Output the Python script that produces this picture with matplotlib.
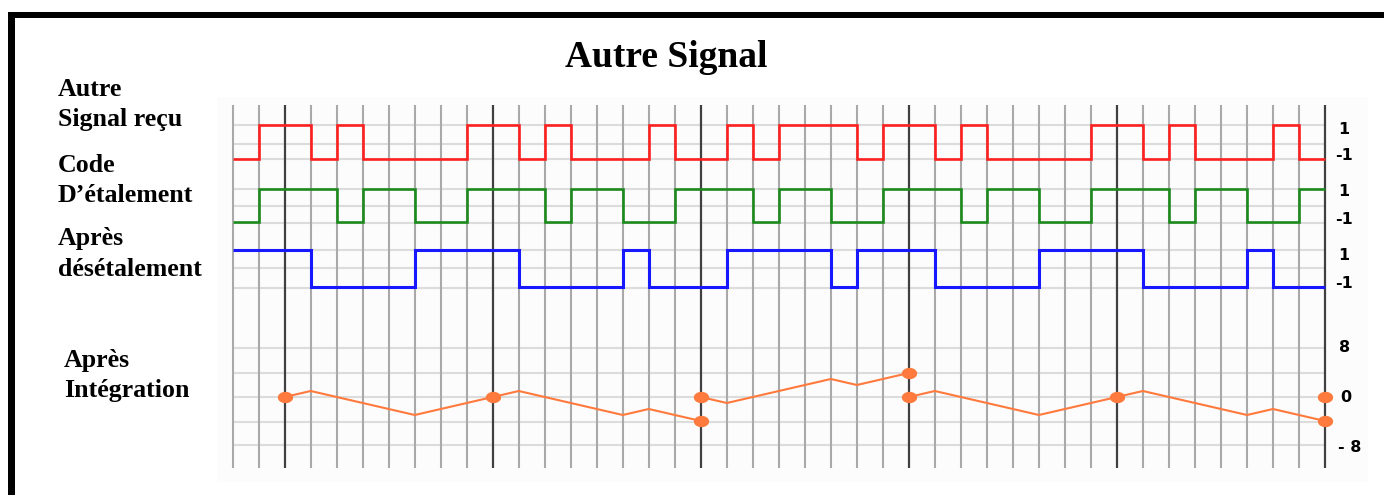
import numpy as np
import matplotlib
matplotlib.use("Agg")
import matplotlib.pyplot as plt
from matplotlib.path import Path
from matplotlib.patches import Rectangle

# ---------------- data ----------------
# chip values, one per chip period (42 chips)
signal_recu = [-1, 1, 1, -1, 1, -1, -1, -1,
               -1, 1, 1, -1, 1, -1, -1, -1,
               1, -1, -1, 1, -1, 1, 1, 1,
               -1, 1, 1, -1, 1, -1, -1, -1,
               -1, 1, 1, -1, 1, -1, -1, -1,
               1, -1]
code_etalement = [-1, 1, 1, 1, -1, 1, 1, -1,
                  -1, 1, 1, 1, -1, 1, 1, -1,
                  -1, 1, 1, 1, -1, 1, 1, -1,
                  -1, 1, 1, 1, -1, 1, 1, -1,
                  -1, 1, 1, 1, -1, 1, 1, -1,
                  -1, 1]
apres_desetalement = [1, 1, 1, -1, -1, -1, -1, 1,
                      1, 1, 1, -1, -1, -1, -1, 1,
                      -1, -1, -1, 1, 1, 1, 1, -1,
                      1, 1, 1, -1, -1, -1, -1, 1,
                      1, 1, 1, -1, -1, -1, -1, 1,
                      -1, -1]
# integration (piecewise linear, one segment per 8-chip window)
integ_t = [[2, 3, 7, 10], [10, 11, 15, 16, 18], [18, 19, 23, 24, 26],
           [26, 27, 31, 34], [34, 35, 39, 40, 42]]
integ_v = [[0, 1, -3, 0], [0, 1, -3, -2, -4], [0, -1, 3, 2, 4],
           [0, 1, -3, 0], [0, 1, -3, -2, -4]]
marker_t = [2, 10, 18, 18, 26, 26, 34, 42, 42]
marker_v = [0, 0, -4, 0, 4, 0, 0, -4, 0]
bit_bounds = [2, 10, 18, 26, 34, 42]

# ---------------- layout ----------------
W, H = 1384, 495
fig = plt.figure(figsize=(W / 100, H / 100), dpi=100)

deco = fig.add_axes([0, 0, 1, 1], zorder=0)
deco.set_xlim(0, W)
deco.set_ylim(H, 0)
deco.axis("off")

ax = fig.add_axes([0, 0, 1, 1], zorder=1)
ax.patch.set_alpha(0)
ax.axis("off")
X0, DX = 232.7, 26.007
ax.set_xlim(-X0 / DX, (W - X0) / DX)
ax.set_ylim(H, 0)   # y in pixel rows

# faint picture background
deco.add_patch(Rectangle((217, 97), 1151, 385, facecolor="#fcfcfc", edgecolor="none"))
# thick frame (top + left)
deco.add_patch(Rectangle((8, 12), W - 8, 5.5, facecolor="black", edgecolor="none"))
deco.add_patch(Rectangle((8, 12), 7, H, facecolor="black", edgecolor="none"))

# title
deco.text(666, 67, "Autre Signal", ha="center", va="baseline",
          family="Liberation Serif", weight="bold", fontsize=27)

lab = dict(ha="left", va="baseline", family="Liberation Serif",
           weight="bold", fontsize=18.6)
deco.text(58, 95.5, "Autre", **lab)
deco.text(58, 126, "Signal reçu", **lab)
deco.text(58, 171.5, "Code", **lab)
deco.text(58, 202.5, "D’étalement", **lab)
deco.text(58, 245.5, "Après", **lab)
deco.text(58, 276, "désétalement", **lab)
deco.text(64, 367.5, "Après", **lab)
deco.text(64, 396.5, "Intégration", **lab)

# ---------------- grid ----------------
nchips = len(signal_recu)
grid_rows = [125, 144, 159, 189, 206, 222.5, 250, 268, 287.5,
             348, 373, 397, 422, 445]
ax.hlines(grid_rows, 0, nchips, colors="#dcdcdc", linewidth=1.5, zorder=1)
for t in range(nchips + 1):
    dark = t in bit_bounds
    ax.vlines(t, 105, 468, colors="#404040" if dark else "#a9a9a9",
              linewidth=1.6 if dark else 1.5, zorder=2)

# ---------------- signals ----------------
edges = np.arange(nchips + 1)
tracks = [
    (signal_recu, 124.5, 159.0, "#ff2020", 1.9),
    (code_etalement, 189.0, 222.0, "#1c8a1c", 1.9),
    (apres_desetalement, 250.0, 287.0, "#1818ff", 2.2),
]
for vals, hi, lo, col, lw in tracks:
    v = np.asarray(vals, dtype=float)
    y = (hi + lo) / 2 - (lo - hi) / 2 * v
    ax.stairs(y, edges, baseline=None, color=col, linewidth=lw, zorder=3)

# integration track: value 0 at row 397, 6 px per unit
Y0, SC = 397.0, 6.0
orange = "#ff7a3c"
for ts, vs in zip(integ_t, integ_v):
    ax.plot(ts, Y0 - SC * np.asarray(vs), color=orange, linewidth=1.5, zorder=3)

th = np.linspace(0, 2 * np.pi, 41)
ell = Path(np.c_[1.4 * np.cos(th), np.sin(th)], closed=True)
ax.plot(marker_t, Y0 - SC * np.asarray(marker_v), linestyle="none",
        marker=ell, markersize=10, color=orange, zorder=4)

# right-hand value labels
rl = dict(ha="center", va="center", family="DejaVu Sans",
          weight="bold", fontsize=11.5)
for txt, yy in [("1", 130), ("-1", 155), ("1", 192), ("-1", 219),
                ("1", 256), ("-1", 283)]:
    deco.text(1344, yy, txt, **rl)
deco.text(1345, 348, "8", **rl)
deco.text(1346, 398, "0", **rl)
deco.text(1350, 447, "- 8", **rl)

fig.savefig("out.png", dpi=100)
